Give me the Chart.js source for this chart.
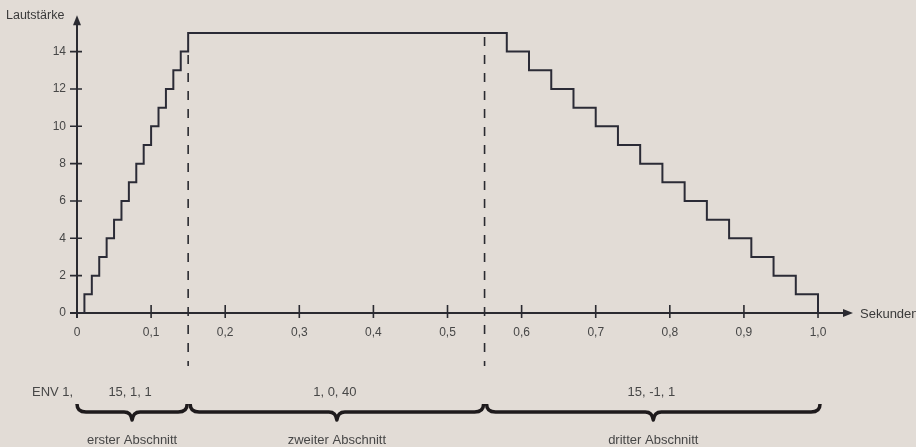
<!DOCTYPE html>
<html>
<head>
<meta charset="utf-8">
<script src="https://cdn.jsdelivr.net/npm/chart.js@4/dist/chart.umd.min.js"></script>
<style>
html,body{margin:0;padding:0;background:#e2dcd6;}
canvas{display:block;}
</style>
</head>
<body>
<canvas id="c" width="916" height="447"></canvas>
<script>
// Step times (seconds) where the volume changes, and the new volume level
const stepTimes = [0, 0.01, 0.02, 0.03, 0.04, 0.05, 0.06, 0.07, 0.08, 0.09, 0.10, 0.11, 0.12, 0.13, 0.14, 0.15,
                   0.58, 0.61, 0.64, 0.67, 0.70, 0.73, 0.76, 0.79, 0.82, 0.85, 0.88, 0.91, 0.94, 0.97, 1.00];
const levels    = [0, 1, 2, 3, 4, 5, 6, 7, 8, 9, 10, 11, 12, 13, 14, 15,
                   14, 13, 12, 11, 10, 9, 8, 7, 6, 5, 4, 3, 2, 1, 0];
const xTicks = [0, 0.1, 0.2, 0.3, 0.4, 0.5, 0.6, 0.7, 0.8, 0.9, 1.0];
const xTickLabels = ['0', '0,1', '0,2', '0,3', '0,4', '0,5', '0,6', '0,7', '0,8', '0,9', '1,0'];
const yTicks = [0, 2, 4, 6, 8, 10, 12, 14];
const sectionBounds = [0, 0.15, 0.55, 1.0];
const sectionParams = ['15, 1, 1', '1, 0, 40', '15, -1, 1'];
const sectionNames = ['erster Abschnitt', 'zweiter Abschnitt', 'dritter Abschnitt'];
const envLabel = 'ENV 1,';
const yTitle = 'Lautstärke';
const xTitle = 'Sekunden';

const FONT = '"Liberation Sans", Arial, sans-serif';
const INK = '#2a2a30';
const TXT = '#474747';

const decor = {
  id: 'decor',
  beforeDraw(chart) {
    const ctx = chart.ctx;
    ctx.save();
    ctx.fillStyle = '#e2dcd6';
    ctx.fillRect(0, 0, chart.width, chart.height);
    ctx.restore();
  },
  beforeDatasetsDraw(chart) {
    const ctx = chart.ctx;
    const xs = chart.scales.x, ys = chart.scales.y;
    const x0 = xs.getPixelForValue(0), y0 = ys.getPixelForValue(0);
    const top = ys.getPixelForValue(16), right = chart.chartArea.right;
    ctx.save();
    ctx.strokeStyle = INK;
    ctx.fillStyle = INK;
    ctx.lineWidth = 2;
    // axes
    ctx.beginPath();
    ctx.moveTo(x0, y0 + 5); ctx.lineTo(x0, top + 8);
    ctx.moveTo(x0 - 7, y0); ctx.lineTo(right - 8, y0);
    ctx.stroke();
    // arrows
    ctx.beginPath();
    ctx.moveTo(x0, top + 1); ctx.lineTo(x0 - 4, top + 11); ctx.lineTo(x0 + 4, top + 11); ctx.closePath();
    ctx.fill();
    ctx.beginPath();
    ctx.moveTo(right, y0); ctx.lineTo(right - 10, y0 - 4); ctx.lineTo(right - 10, y0 + 4); ctx.closePath();
    ctx.fill();
    // ticks
    ctx.lineWidth = 1.6;
    ctx.beginPath();
    yTicks.forEach(v => { if (v === 0) return; const y = ys.getPixelForValue(v); ctx.moveTo(x0 - 7, y); ctx.lineTo(x0 + 5, y); });
    xTicks.forEach(v => { if (v === 0) return; const x = xs.getPixelForValue(v); ctx.moveTo(x, y0 - 8); ctx.lineTo(x, y0 + 5); });
    ctx.stroke();
    // dashed section lines
    ctx.setLineDash([9, 9]);
    ctx.lineWidth = 1.6;
    const dashTops = [55, 37];
    [sectionBounds[1], sectionBounds[2]].forEach((v, i) => {
      const x = xs.getPixelForValue(v);
      ctx.beginPath(); ctx.moveTo(x, dashTops[i]); ctx.lineTo(x, 366); ctx.stroke();
    });
    ctx.setLineDash([]);
    // axis titles
    ctx.fillStyle = '#3a3a3a';
    ctx.font = '12.5px ' + FONT;
    ctx.textBaseline = 'middle';
    ctx.textAlign = 'left';
    ctx.fillText(yTitle, 6, 16);
    ctx.font = '13px ' + FONT;
    ctx.fillText(xTitle, right + 7, y0 + 1);
    // ENV annotation
    ctx.fillStyle = TXT;
    ctx.font = '13px ' + FONT;
    ctx.fillText(envLabel, 32, 392);
    ctx.textAlign = 'center';
    // braces
    for (let i = 0; i < 3; i++) {
      let a = xs.getPixelForValue(sectionBounds[i]) + (i === 0 ? 0 : 2);
      let b = xs.getPixelForValue(sectionBounds[i + 1]) + (i === 2 ? 2 : -1);
      const m = (a + b) / 2;
      ctx.fillStyle = TXT;
      ctx.fillText(sectionParams[i], m - 2, 392);
      ctx.fillText(sectionNames[i], m, 440);
      ctx.strokeStyle = '#1e1a1c';
      ctx.lineWidth = 3.5;
      ctx.lineJoin = 'round';
      ctx.beginPath();
      ctx.moveTo(a, 404);
      ctx.quadraticCurveTo(a, 412, a + 9, 412);
      ctx.lineTo(m - 8, 412);
      ctx.quadraticCurveTo(m - 1, 412, m, 420);
      ctx.quadraticCurveTo(m + 1, 412, m + 8, 412);
      ctx.lineTo(b - 9, 412);
      ctx.quadraticCurveTo(b, 412, b, 404);
      ctx.stroke();
    }
    ctx.restore();
  }
};

new Chart(document.getElementById('c'), {
  type: 'line',
  data: {
    datasets: [{
      data: stepTimes.map((t, i) => ({ x: t, y: levels[i] })),
      borderColor: '#2b2b36',
      borderWidth: 2,
      pointRadius: 0,
      stepped: true,
      fill: false,
      tension: 0
    }]
  },
  options: {
    responsive: false,
    animation: false,
    events: [],
    layout: { padding: { left: 0, right: 63, top: 9, bottom: 0 } },
    plugins: { legend: { display: false }, tooltip: { enabled: false } },
    scales: {
      x: {
        type: 'linear', min: 0, max: 1.0472,
        afterBuildTicks: s => { s.ticks = xTicks.map(v => ({ value: v })); },
        afterFit: s => { s.height = 134; },
        grid: { display: false, drawTicks: false },
        border: { display: false },
        ticks: {
          autoSkip: false, maxRotation: 0, padding: 12,
          color: TXT, font: { family: FONT, size: 12 },
          callback: (v, i) => xTickLabels[i]
        }
      },
      y: {
        type: 'linear', min: 0, max: 15.79,
        afterBuildTicks: s => { s.ticks = yTicks.map(v => ({ value: v })); },
        afterFit: s => { s.width = 77; },
        grid: { display: false, drawTicks: false },
        border: { display: false },
        ticks: {
          padding: 11, color: TXT, font: { family: FONT, size: 12 },
          callback: v => String(v)
        }
      }
    }
  },
  plugins: [decor]
});
</script>
</body>
</html>
